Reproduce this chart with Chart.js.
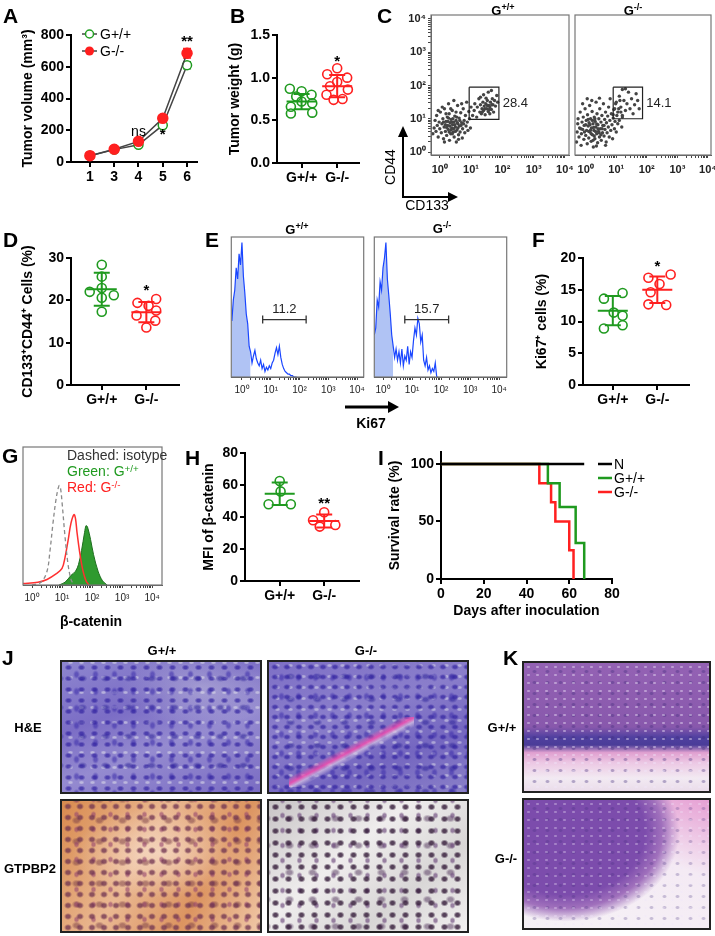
<!DOCTYPE html>
<html>
<head>
<meta charset="utf-8">
<script src="https://cdn.jsdelivr.net/npm/chart.js@4.4.1/dist/chart.umd.min.js"></script>
<style>
body{margin:0;background:#fff}
#fig{position:relative;width:715px;height:936px;overflow:hidden;font-family:"Liberation Sans",Arial,sans-serif;color:#000}
#fig canvas{position:absolute}
.t{position:absolute;white-space:nowrap;line-height:1}
.c{transform:translate(-50%,-50%)}
.lc{transform:translateY(-50%)}
.lt{font-size:21px;font-weight:bold}
.hd{font-size:13px;font-weight:bold}
.n14{font-size:14px}
.b14{font-size:14px;font-weight:bold}
sup{font-size:70%;vertical-align:0.45em;line-height:0}
.img{position:absolute;border:2px solid #222;box-sizing:border-box}
.he1{background:
 radial-gradient(ellipse 4px 3px,rgba(50,35,160,.7) 40%,transparent 100%) 0 0/13px 11px,
 radial-gradient(ellipse 3.5px 4.5px,rgba(60,45,170,.55) 40%,transparent 100%) 5px 4px/19px 17px,
 radial-gradient(ellipse 5px 3.5px,rgba(40,30,150,.5) 40%,transparent 100%) 9px 2px/23px 29px,
 radial-gradient(ellipse 3px 2px,rgba(225,225,235,.55) 40%,transparent 100%) 3px 8px/11px 15px,
 radial-gradient(ellipse 40% 30% at 70% 20%,rgba(210,210,225,.45),transparent),
 linear-gradient(160deg,#8e86cf,#7b6dc5 35%,#958bd0 60%,#7a6cc3)}
.he2{background:
 linear-gradient(152deg,transparent 44%,rgba(235,80,175,.9) 49%,rgba(220,200,230,.7) 52%,transparent 56%) 20px 55px/125px 70px no-repeat,
 radial-gradient(ellipse 4px 3px,rgba(50,35,160,.7) 40%,transparent 100%) 0 0/12px 10px,
 radial-gradient(ellipse 3.5px 4.5px,rgba(60,45,170,.55) 40%,transparent 100%) 4px 6px/17px 19px,
 radial-gradient(ellipse 5px 3.5px,rgba(40,30,150,.5) 40%,transparent 100%) 8px 3px/27px 23px,
 radial-gradient(ellipse 3px 2px,rgba(225,225,235,.5) 40%,transparent 100%) 2px 9px/13px 11px,
 linear-gradient(160deg,#7e70c6,#8a7ecb 40%,#7466c0 70%,#8a80c8)}
.gl{background:
 radial-gradient(ellipse 4px 3.5px,rgba(110,50,80,.75) 45%,transparent 100%) 0 0/12px 11px,
 radial-gradient(ellipse 3px 3.5px,rgba(150,70,110,.6) 45%,transparent 100%) 6px 6px/17px 15px,
 radial-gradient(ellipse 5px 4px,rgba(120,60,70,.5) 45%,transparent 100%) 3px 9px/23px 21px,
 radial-gradient(ellipse 45% 35% at 50% 40%,rgba(255,240,230,.55),transparent),
 linear-gradient(120deg,#d88a4e,#eab892 40%,#dc9460 70%,#f0c8a8)}
.gr{background:
 radial-gradient(ellipse 4px 3.5px,rgba(50,25,55,.8) 45%,transparent 100%) 0 0/13px 12px,
 radial-gradient(ellipse 3px 3.5px,rgba(110,75,125,.65) 45%,transparent 100%) 5px 7px/17px 15px,
 radial-gradient(ellipse 5px 4px,rgba(80,50,90,.5) 45%,transparent 100%) 9px 4px/23px 27px,
 linear-gradient(140deg,#c8c4c6,#efeded 40%,#d8d6d6 70%,#f2f0f0)}
.k1{background:
 radial-gradient(ellipse 2px 1.5px,rgba(240,230,250,.45) 50%,transparent 100%) 0 0/9px 8px,
 radial-gradient(ellipse 2.5px 2px,rgba(60,40,120,.35) 50%,transparent 100%) 4px 3px/13px 11px,
 linear-gradient(180deg,#9462b4 0%,#8858ac 50%,#5040a0 58%,#4a3c98 64%,#e0a0d0 70%,#ecc8e4 78%,#f2eaf2 90%,#eadcea 100%)}
.k2{background:
 radial-gradient(ellipse 2px 1.5px,rgba(240,230,250,.35) 50%,transparent 100%) 0 0/9px 8px,
 radial-gradient(ellipse 2.5px 2px,rgba(60,40,120,.25) 50%,transparent 100%) 4px 3px/13px 11px,
 radial-gradient(ellipse 62% 70% at 22% 25%,#7c4cac 0 70%,#a070bc 85%,transparent 100%),
 linear-gradient(200deg,#e6a0d4 0%,#f4eaf4 40%,#f6f2f6 100%)}
</style>
</head>
<body>
<div id="fig">
  <canvas id="cA" width="193" height="167" style="left:16px;top:23px"></canvas>
  <canvas id="cB" width="142" height="168" style="left:223px;top:23px"></canvas>
  <canvas id="cC1" width="173" height="172" style="left:400px;top:8px"></canvas>
  <canvas id="cC2" width="144" height="172" style="left:571px;top:8px"></canvas>
  <canvas id="cD" width="169" height="169" style="left:16px;top:244px"></canvas>
  <canvas id="cE1" width="143" height="169" style="left:226px;top:230px"></canvas>
  <canvas id="cE2" width="143" height="169" style="left:369px;top:230px"></canvas>
  <canvas id="cF" width="165" height="169" style="left:530px;top:244px"></canvas>
  <canvas id="cG" width="147" height="167" style="left:18px;top:440px"></canvas>
  <canvas id="cH" width="168" height="168" style="left:197px;top:441px"></canvas>
  <canvas id="cI" width="239" height="180" style="left:383px;top:444px"></canvas>

  <div class="img he1" style="left:60px;top:660px;width:202px;height:134px"></div>
  <div class="img he2" style="left:267px;top:660px;width:202px;height:134px"></div>
  <div class="img gl" style="left:60px;top:799px;width:202px;height:134px"></div>
  <div class="img gr" style="left:267px;top:799px;width:202px;height:134px"></div>
  <div class="img k1" style="left:522px;top:661px;width:189px;height:132px"></div>
  <div class="img k2" style="left:522px;top:798px;width:189px;height:132px"></div>

  <svg width="715" height="936" style="position:absolute;left:0;top:0;pointer-events:none">
    <line x1="82" y1="34" x2="97" y2="34" stroke="#444" stroke-width="1.5"/>
    <circle cx="89.5" cy="34" r="4" fill="#fff" stroke="#22a022" stroke-width="1.5"/>
    <line x1="82" y1="51" x2="97" y2="51" stroke="#444" stroke-width="1.5"/>
    <circle cx="89.5" cy="51" r="4.5" fill="#ff1e1e"/>
    <line x1="403" y1="198" x2="403" y2="134" stroke="#000" stroke-width="2"/>
    <polygon points="398,137 408,137 403,126" fill="#000"/>
    <line x1="402" y1="197" x2="450" y2="197" stroke="#000" stroke-width="2"/>
    <polygon points="448,192 448,202 458,197" fill="#000"/>
    <line x1="345" y1="407" x2="390" y2="407" stroke="#000" stroke-width="3"/>
    <polygon points="388,401 388,413 399,407" fill="#000"/>
    <line x1="598" y1="464" x2="612" y2="464" stroke="#000" stroke-width="2.5"/>
    <line x1="598" y1="478" x2="612" y2="478" stroke="#1f9a1f" stroke-width="2.5"/>
    <line x1="598" y1="492" x2="612" y2="492" stroke="#ff2020" stroke-width="2.5"/>
  </svg>

  <div class="t lt" style="left:3px;top:5px">A</div>
  <div class="t lt" style="left:230px;top:5px">B</div>
  <div class="t lt" style="left:377px;top:5px">C</div>
  <div class="t lt" style="left:3px;top:229px">D</div>
  <div class="t lt" style="left:205px;top:229px">E</div>
  <div class="t lt" style="left:532px;top:229px">F</div>
  <div class="t lt" style="left:2px;top:445px">G</div>
  <div class="t lt" style="left:185px;top:447px">H</div>
  <div class="t lt" style="left:378px;top:447px">I</div>
  <div class="t lt" style="left:2px;top:647px">J</div>
  <div class="t lt" style="left:503px;top:647px">K</div>

  <div class="t n14 lc" style="left:100px;top:34px">G+/+</div>
  <div class="t n14 lc" style="left:100px;top:51px">G-/-</div>

  <div class="t hd c" style="left:503px;top:10px">G<sup>+/+</sup></div>
  <div class="t hd c" style="left:633px;top:10px">G<sup>-/-</sup></div>
  <div class="t n14 c" style="left:390px;top:167px;transform:translate(-50%,-50%) rotate(-90deg)">CD44</div>
  <div class="t n14 c" style="left:427px;top:205px">CD133</div>

  <div class="t hd c" style="left:297px;top:229px">G<sup>+/+</sup></div>
  <div class="t hd c" style="left:442px;top:228px">G<sup>-/-</sup></div>
  <div class="t b14 c" style="left:371px;top:423px">Ki67</div>

  <div class="t n14 lc" style="left:67px;top:455px;color:#333">Dashed: isotype</div>
  <div class="t n14 lc" style="left:67px;top:471px;color:#1f9a1f">Green: G<sup>+/+</sup></div>
  <div class="t n14 lc" style="left:67px;top:487px;color:#ff2020">Red: G<sup>-/-</sup></div>
  <div class="t b14 c" style="left:91px;top:621px">β-catenin</div>

  <div class="t n14 lc" style="left:614px;top:464px">N</div>
  <div class="t n14 lc" style="left:614px;top:478px">G+/+</div>
  <div class="t n14 lc" style="left:614px;top:492px">G-/-</div>

  <div class="t hd c" style="left:162px;top:650px">G+/+</div>
  <div class="t hd c" style="left:366px;top:650px">G-/-</div>
  <div class="t hd c" style="left:28px;top:727px">H&amp;E</div>
  <div class="t hd c" style="left:30px;top:868px">GTPBP2</div>
  <div class="t hd c" style="left:502px;top:727px">G+/+</div>
  <div class="t hd c" style="left:506px;top:858px">G-/-</div>
</div>

<script>
const FONT = '"Liberation Sans", Arial, sans-serif';
const GREEN = '#1f9a1f';
const RED = '#ff2020';

// ---- data ----
const groups = ['G+/+', 'G-/-'];

// A: tumor volume
const volDays = ['1', '3', '4', '5', '6'];
const volWT = [40, 78, 108, 232, 610];
const volKO = [40, 80, 130, 275, 685];
const volWTerr = [5, 6, 8, 15, 22];
const volKOerr = [5, 6, 10, 18, 30];

// B: tumor weight
const weightWT = [0.87, 0.84, 0.80, 0.78, 0.72, 0.70, 0.66, 0.59, 0.58];
const weightKO = [1.11, 1.04, 1.00, 0.95, 0.90, 0.86, 0.80, 0.75, 0.74];
const weightWTjit = [-0.33, 0.0, 0.28, -0.15, 0.0, 0.3, -0.3, 0.3, -0.3];
const weightKOjit = [0.0, -0.28, 0.28, 0.0, -0.2, 0.3, -0.3, 0.15, -0.1];
const weightMean = [0.72, 0.90];
const weightSD = [0.09, 0.13];

// C: CD133 / CD44 (log10 values)
const cdWT = [
  [-0.22,0.55],[-0.18,0.72],[-0.15,0.95],[-0.12,0.62],[-0.1,1.1],[-0.08,0.8],[-0.05,0.45],[-0.02,0.9],[0.0,0.7],[0.02,1.2],
  [0.05,0.58],[0.07,0.85],[0.1,1.0],[0.12,0.4],[0.14,0.75],[0.15,1.3],[0.18,0.62],[0.2,0.92],[0.22,0.5],[0.24,1.05],
  [0.25,0.8],[0.27,0.68],[0.3,1.15],[0.31,0.35],[0.33,0.88],[0.35,0.55],[0.36,0.98],[0.38,0.72],[0.4,1.25],[0.41,0.82],
  [0.43,0.6],[0.45,0.9],[0.46,0.45],[0.48,1.08],[0.5,0.75],[0.52,0.95],[0.53,0.3],[0.55,0.66],[0.57,1.4],[0.58,0.85],
  [0.6,0.52],[0.62,1.02],[0.63,0.78],[0.65,0.6],[0.67,1.18],[0.7,0.88],[0.72,0.42],[0.73,0.7],[0.75,1.3],[0.78,0.95],
  [0.8,0.58],[0.82,1.1],[0.84,0.78],[0.86,1.5],[0.88,0.9],[0.9,0.65],[0.93,1.22],[0.95,1.0],[0.98,0.72],[1.0,1.35],
  [0.28,1.45],[0.08,1.35],[0.45,1.55],[0.6,0.38],[0.15,0.3],[0.35,1.3],[0.7,1.45],[-0.05,1.25],[0.52,1.2],[0.2,1.15],
  [0.32,0.78],[0.44,0.7],[0.38,0.9],[0.5,0.62],[0.26,0.92],[0.56,0.88],[0.42,1.0],[0.3,0.6],[0.64,0.95],[0.18,0.82],
  [0.48,0.82],[0.36,0.66],[0.58,0.72],[0.22,0.74],[0.68,0.8],[0.12,0.9],[0.54,1.05],[0.4,0.55],[0.76,0.85],[0.28,1.02],
  [1.05,1.1],[1.1,1.25],[1.12,1.45],[1.18,1.05],[1.2,1.35],[1.25,1.6],[1.28,1.2],[1.3,1.42],[1.33,1.15],[1.35,1.3],
  [1.38,1.5],[1.4,1.25],[1.42,1.38],[1.45,1.12],[1.47,1.45],[1.5,1.3],[1.52,1.55],[1.55,1.22],[1.57,1.4],[1.6,1.35],
  [1.62,1.5],[1.65,1.28],[1.68,1.6],[1.7,1.42],[1.72,1.2],[1.75,1.55],[1.78,1.38],[1.82,1.7],[1.55,1.8],[1.4,1.72],
  [1.85,1.5],[1.65,1.85],[1.3,1.65],[1.48,1.62],[1.6,1.15],[1.52,1.4],[1.44,1.3],[1.58,1.28],[1.66,1.42],[1.36,1.2]
];
const cdKO = [
  [-0.3,0.3],[-0.28,0.6],[-0.26,0.85],[-0.25,1.0],[-0.22,0.45],[-0.2,0.72],[-0.18,1.2],[-0.15,0.2],[-0.14,0.55],[-0.12,0.9],
  [-0.1,0.68],[-0.08,1.05],[-0.06,0.38],[-0.05,0.8],[-0.02,1.3],[0.0,0.5],[0.02,0.95],[0.03,0.65],[0.05,0.25],[0.06,1.12],
  [0.08,0.78],[0.1,0.42],[0.11,0.88],[0.13,1.4],[0.14,0.6],[0.16,1.0],[0.18,0.32],[0.19,0.72],[0.21,1.22],[0.22,0.52],
  [0.24,0.85],[0.25,0.15],[0.27,0.65],[0.28,1.05],[0.3,0.4],[0.31,0.92],[0.33,0.75],[0.34,1.5],[0.36,0.55],[0.37,1.15],
  [0.39,0.28],[0.4,0.82],[0.42,0.62],[0.43,1.0],[0.45,0.45],[0.46,1.3],[0.48,0.7],[0.5,0.9],[0.51,0.35],[0.53,1.1],
  [0.55,0.58],[0.56,0.8],[0.58,1.45],[0.6,0.48],[0.62,0.98],[0.63,0.68],[0.65,1.2],[0.67,0.3],[0.68,0.88],[0.7,0.58],
  [0.72,1.08],[0.74,0.75],[0.75,1.35],[0.77,0.45],[0.79,0.95],[0.8,1.6],[0.82,0.65],[0.84,1.15],[0.86,0.82],[0.88,0.4],
  [0.9,1.02],[0.92,1.28],[0.94,0.7],[0.96,0.92],[0.98,1.45],[1.0,0.6],[1.02,1.1],[1.05,0.85],[1.08,1.3],[1.1,0.95],
  [1.12,1.55],[1.15,1.2],[1.18,0.75],[1.2,1.05],[0.2,1.55],[-0.1,1.45],[0.45,1.62],[0.65,0.2],[0.35,0.18],[0.05,1.6],
  [0.1,0.62],[0.26,0.74],[0.18,0.55],[0.32,0.62],[0.0,0.82],[0.4,0.7],[0.14,0.82],[0.22,0.95],[0.5,0.52],[-0.04,0.6],
  [0.28,0.48],[0.08,0.98],[0.36,0.84],[0.44,0.58],[0.16,0.66],[0.3,1.0],[-0.16,0.7],[0.6,0.8],[0.24,0.35],[0.54,0.7],
  [0.9,1.12],[0.95,1.3],[1.0,1.5],[1.05,1.2],[1.1,1.68],[1.15,1.35],[1.2,1.1],[1.25,1.55],[1.3,1.25],[1.35,1.45],
  [1.4,1.8],[1.45,1.3],[1.5,1.6],[1.55,1.15],[1.6,1.42],[1.7,1.55],[1.75,1.3],[1.3,1.9],[1.2,1.88],[1.65,1.75]
];
const gateWT = {x1: 0.94, x2: 1.89, y1: 0.98, y2: 1.95, label: '28.4'};
const gateKO = {x1: 0.90, x2: 1.86, y1: 1.0, y2: 1.95, label: '14.1'};

// D: CD133+CD44+ cells
const stemWT = [28.4, 25.6, 22.9, 22.0, 21.2, 20.6, 17.3];
const stemKO = [20.3, 19.4, 18.7, 17.6, 16.4, 15.2, 13.6];
const stemWTjit = [0, 0, 0, -0.27, 0.27, 0, 0];
const stemKOjit = [0.22, -0.2, 0.05, 0.22, -0.22, 0.2, 0];
const stemMean = [22.6, 17.2];
const stemSD = [3.9, 2.4];

// E: Ki67 histograms (bins of 0.05 log10 units)
const kiWTstart = -0.35;
const kiWT = [40, 55, 62, 78, 70, 88, 80, 96, 72, 60, 45, 38, 22, 18, 10, 15, 19, 13, 10, 8,
  12, 6, 9, 4, 7, 5, 8, 6, 10, 12, 17, 21, 16, 22, 14, 9, 6, 4, 3, 2, 2, 1, 1, 0, 0, 0];
const kiKOstart = -0.30;
const kiKO = [30, 35, 55, 50, 68, 62, 78, 85, 96, 70, 58, 45, 30, 22, 14, 20, 12, 18, 10, 20,
  8, 15, 12, 22, 9, 18, 14, 26, 35, 30, 42, 38, 25, 30, 12, 8, 14, 5, 8, 3, 6, 4, 10, 0, 0];
const kiBinStep = 0.05;
const kiGateWT = {x1: 0.72, x2: 2.23, y: 41, label: '11.2'};
const kiGateKO = {x1: 0.75, x2: 2.26, y: 41, label: '15.7'};

// F: Ki67+ cells
const kiPctWT = [14.5, 13.6, 11.4, 10.9, 9.4, 8.9];
const kiPctKO = [17.4, 16.9, 15.9, 14.6, 12.7, 12.6];
const kiPctWTjit = [0.22, -0.2, 0.02, 0.22, 0.22, -0.2];
const kiPctKOjit = [0.3, -0.2, 0.05, -0.15, -0.2, 0.2];
const kiPctMean = [11.7, 15.0];
const kiPctSD = [2.3, 2.1];

// G: beta-catenin histograms (log10 x, % of max)
const isoX = [0.0, 0.3, 0.5, 0.6, 0.7, 0.8, 0.9, 0.95, 1.0, 1.1, 1.2, 1.3, 1.4];
const isoY = [0, 2, 10, 25, 45, 62, 72, 70, 60, 35, 15, 4, 0];
const redX = [-0.3, 0.2, 0.5, 0.8, 1.0, 1.1, 1.2, 1.3, 1.4, 1.45, 1.5, 1.6, 1.7, 1.8, 1.9];
const redY = [1, 2, 4, 8, 12, 20, 32, 45, 51, 48, 38, 22, 10, 3, 0];
const grnX = [0.9, 1.1, 1.3, 1.45, 1.55, 1.65, 1.75, 1.8, 1.85, 1.95, 2.05, 2.2, 2.35, 2.5];
const grnY = [0, 2, 7, 10, 15, 25, 38, 43, 42, 33, 22, 10, 3, 0];

// H: MFI of beta-catenin
const mfiWT = [62.5, 56, 48, 48];
const mfiKO = [43, 38, 35, 34];
const mfiWTjit = [0, 0.02, -0.25, 0.25];
const mfiKOjit = [0, -0.25, 0.25, -0.1];
const mfiMean = [54.5, 37.5];
const mfiSD = [7, 4];

// I: survival
const survN = [[0, 100], [67, 100]];
const survWTdays = [0, 50, 55.5, 63, 67];
const survWT = [100, 83.3, 62.5, 31.2, 0];
const survKOdays = [0, 46, 51.5, 53.5, 60, 62];
const survKO = [100, 83.3, 66.7, 50, 25, 0];

// ---- plugins ----
const meanSd = {
  id: 'meanSd',
  afterDatasetsDraw(chart, args, opts) {
    if (!opts.groups) return;
    const {ctx} = chart, x = chart.scales.x, y = chart.scales.y;
    ctx.save();
    ctx.lineWidth = 2;
    opts.groups.forEach(g => {
      const cx = x.getPixelForValue(g.x);
      const ym = y.getPixelForValue(g.mean);
      const yt = y.getPixelForValue(g.mean + g.sd), yb = y.getPixelForValue(g.mean - g.sd);
      ctx.strokeStyle = g.color;
      ctx.beginPath();
      ctx.moveTo(cx - 15, ym); ctx.lineTo(cx + 15, ym);
      ctx.moveTo(cx, yt); ctx.lineTo(cx, yb);
      ctx.moveTo(cx - 8, yt); ctx.lineTo(cx + 8, yt);
      ctx.moveTo(cx - 8, yb); ctx.lineTo(cx + 8, yb);
      ctx.stroke();
    });
    ctx.restore();
  }
};

const errorBars = {
  id: 'errorBars',
  beforeDatasetsDraw(chart) {
    const {ctx} = chart;
    chart.data.datasets.forEach((ds, di) => {
      if (!ds.errors) return;
      const meta = chart.getDatasetMeta(di);
      const ys = chart.scales[meta.yAxisID];
      ctx.save();
      ctx.strokeStyle = ds.errColor;
      ctx.lineWidth = 1.5;
      meta.data.forEach((pt, i) => {
        const v = ds.data[i].y, e = ds.errors[i];
        const y1 = ys.getPixelForValue(v - e), y2 = ys.getPixelForValue(v + e);
        ctx.beginPath();
        ctx.moveTo(pt.x, y1); ctx.lineTo(pt.x, y2);
        ctx.moveTo(pt.x - 4, y2); ctx.lineTo(pt.x + 4, y2);
        ctx.moveTo(pt.x - 4, y1); ctx.lineTo(pt.x + 4, y1);
        ctx.stroke();
      });
      ctx.restore();
    });
  }
};

const textMarks = {
  id: 'textMarks',
  afterDatasetsDraw(chart, args, opts) {
    if (!opts.items) return;
    const {ctx} = chart, x = chart.scales.x, y = chart.scales.y;
    ctx.save();
    ctx.textBaseline = 'middle';
    opts.items.forEach(it => {
      ctx.font = it.font || ('bold 14px ' + FONT);
      ctx.fillStyle = it.color || '#000';
      ctx.textAlign = it.align || 'center';
      ctx.fillText(it.text, x.getPixelForValue(it.x), y.getPixelForValue(it.y));
    });
    ctx.restore();
  }
};

const frame = {
  id: 'frame',
  afterDraw(chart, args, opts) {
    if (!opts.color) return;
    const {ctx, chartArea: a} = chart;
    ctx.save();
    ctx.strokeStyle = opts.color;
    ctx.lineWidth = 1.2;
    ctx.strokeRect(a.left, a.top, a.right - a.left, a.bottom - a.top);
    ctx.restore();
  }
};

Chart.register(meanSd, errorBars, textMarks, frame);
Chart.defaults.font.family = FONT;
Chart.defaults.color = '#000';
Chart.defaults.animation = false;
Chart.defaults.responsive = false;
Chart.defaults.plugins.legend.display = false;
Chart.defaults.plugins.tooltip.enabled = false;

// ---- axis helpers ----
const prismGrid = {drawOnChartArea: false, drawTicks: true, tickLength: 5, color: '#000', lineWidth: 2};
const prismBorder = {display: true, color: '#000', width: 2};
const boldTicks = {size: 14, weight: 'bold'};

function yPrism(min, max, at, width, title, fmt) {
  return {
    type: 'linear', min, max,
    afterBuildTicks: s => { s.ticks = at.map(v => ({value: v})); },
    afterFit: s => { s.width = width; s.paddingTop = 0; s.paddingBottom = 0; },
    border: prismBorder, grid: prismGrid,
    ticks: {color: '#000', font: boldTicks, padding: 2, autoSkip: false, callback: fmt || (v => v)},
    title: {display: true, text: title, color: '#000', font: {size: 14, weight: 'bold'}, padding: {top: 4, bottom: 0}}
  };
}

function xPrism(min, max, labels, height) {
  return {
    type: 'linear', min, max,
    afterBuildTicks: s => { s.ticks = labels.map((l, i) => ({value: i})); },
    afterFit: s => { s.height = height; s.paddingLeft = 0; s.paddingRight = 0; },
    border: prismBorder, grid: prismGrid,
    ticks: {color: '#000', font: boldTicks, padding: 2, autoSkip: false, maxRotation: 0, callback: v => labels[v]}
  };
}

const SUP = ['\u2070', '\u00b9', '\u00b2', '\u00b3', '\u2074'];
const decadeTicks = [];
for (let d = 0; d < 4; d++) for (let k = 1; k < 10; k++) decadeTicks.push(d + Math.log10(k));
decadeTicks.push(4);

function logAxis(min, max, o) {
  return {
    type: 'linear', min, max, display: o.display !== false,
    afterBuildTicks: s => { s.ticks = decadeTicks.map(v => ({value: v})); },
    afterFit: s => {
      if (o.w != null) s.width = o.w;
      if (o.h != null) s.height = o.h;
      s.paddingLeft = 0; s.paddingRight = 0; s.paddingTop = 0; s.paddingBottom = 0;
    },
    border: {display: true, color: '#555', width: 1},
    grid: {drawOnChartArea: false, drawTicks: true, tickLength: 3, color: '#444', lineWidth: 1},
    ticks: {autoSkip: false, maxRotation: 0, padding: o.pad || 2, color: '#222',
      font: {size: o.fs || 10, weight: o.bold ? 'bold' : 'normal'},
      callback: v => Number.isInteger(v) ? '10' + SUP[v] : ''}
  };
}

function dots(values, jit, gi, color) {
  return {
    data: values.map((v, i) => ({x: gi + jit[i], y: v})),
    showLine: false, pointRadius: 4.5, pointBorderWidth: 1.6,
    pointBorderColor: color, pointBackgroundColor: 'rgba(255,255,255,0)'
  };
}

function dotPlot(id, wt, wtJit, ko, koJit, mean, sd, xr, yAx, pad, marks) {
  return new Chart(document.getElementById(id), {
    type: 'scatter',
    data: {datasets: [dots(wt, wtJit, 0, GREEN), dots(ko, koJit, 1, RED)]},
    options: {
      layout: {padding: pad},
      scales: {x: xPrism(xr[0], xr[1], groups, 28), y: yAx},
      plugins: {
        meanSd: {groups: [
          {x: 0, mean: mean[0], sd: sd[0], color: GREEN},
          {x: 1, mean: mean[1], sd: sd[1], color: RED}
        ]},
        textMarks: {items: marks}
      }
    }
  });
}

// ---- A ----
new Chart(document.getElementById('cA'), {
  type: 'scatter',
  data: {datasets: [
    {data: volKO.map((v, i) => ({x: i, y: v})), errors: volKOerr, errColor: RED,
      showLine: true, borderColor: '#444', borderWidth: 1.5,
      pointRadius: 5, pointBackgroundColor: RED, pointBorderColor: RED},
    {data: volWT.map((v, i) => ({x: i, y: v})), errors: volWTerr, errColor: GREEN,
      showLine: true, borderColor: '#444', borderWidth: 1.5,
      pointRadius: 4.5, pointBorderWidth: 1.5, pointBackgroundColor: '#fff', pointBorderColor: GREEN}
  ]},
  options: {
    layout: {padding: {top: 12, right: 12, left: 0, bottom: 0}},
    scales: {
      x: xPrism(-0.78, 4.41, volDays, 28),
      y: yPrism(0, 800, [0, 200, 400, 600, 800], 55, 'Tumor volume (mm\u00b3)')
    },
    plugins: {textMarks: {items: [
      {x: 2, y: 190, text: 'ns', font: '14px ' + FONT},
      {x: 3, y: 172, text: '*', font: 'bold 15px ' + FONT},
      {x: 4, y: 756, text: '**', font: 'bold 15px ' + FONT}
    ]}}
  }
});

// ---- B ----
dotPlot('cB', weightWT, weightWTjit, weightKO, weightKOjit, weightMean, weightSD,
  [-0.69, 1.61],
  yPrism(0, 1.5, [0, 0.5, 1, 1.5], 54, 'Tumor weight (g)', v => v.toFixed(1)),
  {top: 12, right: 5, left: 0, bottom: 0},
  [{x: 1, y: 1.19, text: '*', font: 'bold 15px ' + FONT}]);

// ---- C ----
function flowChart(id, pts, gate, xr, yAx, pad) {
  const gx = [gate.x1, gate.x2, gate.x2, gate.x1, gate.x1];
  const gy = [gate.y2, gate.y2, gate.y1, gate.y1, gate.y2];
  return new Chart(document.getElementById(id), {
    type: 'scatter',
    data: {datasets: [
      {data: gx.map((v, i) => ({x: v, y: gy[i]})), showLine: true, borderColor: '#222',
        borderWidth: 1.2, pointRadius: 0},
      {data: pts.map(p => ({x: p[0], y: p[1]})), pointRadius: 1.7, pointBorderWidth: 0,
        pointBackgroundColor: '#444'}
    ]},
    options: {
      layout: {padding: pad},
      scales: {x: logAxis(xr[0], xr[1], {h: 25, bold: true, fs: 11, pad: 5}), y: yAx},
      plugins: {
        frame: {color: '#777'},
        textMarks: {items: [{x: gate.x2 + 0.12, y: (gate.y1 + gate.y2) / 2, text: gate.label,
          font: '13px ' + FONT, color: '#222', align: 'left'}]}
      }
    }
  });
}
flowChart('cC1', cdWT, gateWT, [-0.28, 4.13],
  logAxis(-0.09, 4.12, {w: 31, bold: true, fs: 11}), {top: 7, right: 2, left: 0, bottom: 0});
flowChart('cC2', cdKO, gateKO, [-0.35, 4.1],
  logAxis(-0.09, 4.12, {display: false}), {top: 7, right: 2, left: 2, bottom: 0});

// ---- D ----
dotPlot('cD', stemWT, stemWTjit, stemKO, stemKOjit, stemMean, stemSD,
  [-0.69, 1.73],
  yPrism(0, 30, [0, 10, 20, 30], 55, 'CD133\u207aCD44\u207a Cells (%)'),
  {top: 14, right: 5, left: 0, bottom: 0},
  [{x: 1, y: 22.2, text: '*', font: 'bold 15px ' + FONT}]);

// ---- E ----
function kiChart(id, start, vals, fillTo, gate, xr, pad) {
  const pts = vals.map((v, i) => ({x: start + i * kiBinStep, y: v}));
  return new Chart(document.getElementById(id), {
    type: 'scatter',
    data: {datasets: [
      {data: [{x: gate.x1, y: gate.y}, {x: gate.x2, y: gate.y}], showLine: true,
        borderColor: '#333', borderWidth: 1.3, pointStyle: 'line', rotation: 90,
        pointRadius: 4, pointBorderColor: '#333', pointBorderWidth: 1.3},
      {data: pts, showLine: true, borderColor: '#1a46ff', borderWidth: 1.2, pointRadius: 0},
      {data: pts.filter(p => p.x <= fillTo), showLine: true, borderWidth: 0, pointRadius: 0,
        fill: 'origin', backgroundColor: 'rgba(150,175,240,0.75)'}
    ]},
    options: {
      layout: {padding: pad},
      scales: {
        x: logAxis(xr[0], xr[1], {h: 22, fs: 10, pad: 4}),
        y: {type: 'linear', min: 0, max: 100, display: false}
      },
      plugins: {
        frame: {color: '#777'},
        textMarks: {items: [{x: (gate.x1 + gate.x2) / 2, y: gate.y + 7, text: gate.label,
          font: '13px ' + FONT, color: '#222'}]}
      }
    }
  });
}
kiChart('cE1', kiWTstart, kiWT, 0.35, kiGateWT, [-0.37, 4.23], {top: 7, right: 2, left: 3, bottom: 0});
kiChart('cE2', kiKOstart, kiKO, 0.40, kiGateKO, [-0.3, 4.26], {top: 7, right: 2, left: 2, bottom: 0});

// ---- F ----
dotPlot('cF', kiPctWT, kiPctWTjit, kiPctKO, kiPctKOjit, kiPctMean, kiPctSD,
  [-0.67, 1.71],
  yPrism(0, 20, [0, 5, 10, 15, 20], 53, 'Ki67\u207a cells (%)'),
  {top: 14, right: 5, left: 0, bottom: 0},
  [{x: 1, y: 18.6, text: '*', font: 'bold 15px ' + FONT}]);

// ---- G ----
new Chart(document.getElementById('cG'), {
  type: 'scatter',
  data: {datasets: [
    {data: isoX.map((v, i) => ({x: v, y: isoY[i]})), showLine: true, borderColor: '#8a8a8a',
      borderWidth: 1.3, borderDash: [4, 3], pointRadius: 0, tension: 0.35},
    {data: redX.map((v, i) => ({x: v, y: redY[i]})), showLine: true, borderColor: '#ff3030',
      borderWidth: 1.5, pointRadius: 0, tension: 0.35},
    {data: grnX.map((v, i) => ({x: v, y: grnY[i]})), showLine: true, borderColor: '#1d6e1d',
      borderWidth: 1, pointRadius: 0, tension: 0.35, fill: 'origin', backgroundColor: '#2f9a2f'}
  ]},
  options: {
    layout: {padding: {top: 7, right: 3, left: 5, bottom: 0}},
    scales: {
      x: logAxis(-0.3, 4.33, {h: 22, fs: 10, pad: 4}),
      y: {type: 'linear', min: 0, max: 100, display: false}
    },
    plugins: {frame: {color: '#777'}}
  }
});

// ---- H ----
dotPlot('cH', mfiWT, mfiWTjit, mfiKO, mfiKOjit, mfiMean, mfiSD,
  [-0.78, 1.78],
  yPrism(0, 80, [0, 20, 40, 60, 80], 48, 'MFI of \u03b2-catenin'),
  {top: 12, right: 5, left: 0, bottom: 0},
  [{x: 1, y: 48, text: '**', font: 'bold 15px ' + FONT}]);

// ---- I ----
new Chart(document.getElementById('cI'), {
  type: 'scatter',
  data: {datasets: [
    {data: survN.map(p => ({x: p[0], y: p[1]})), showLine: true, borderColor: '#000',
      borderWidth: 2.5, pointRadius: 0},
    {data: survWTdays.map((d, i) => ({x: d, y: survWT[i]})), showLine: true, stepped: true,
      borderColor: GREEN, borderWidth: 2.5, pointRadius: 0},
    {data: survKOdays.map((d, i) => ({x: d, y: survKO[i]})), showLine: true, stepped: true,
      borderColor: RED, borderWidth: 2.5, pointRadius: 0}
  ]},
  options: {
    layout: {padding: {top: 8, right: 10, left: 0, bottom: 0}},
    scales: {
      x: {
        type: 'linear', min: 0, max: 80,
        afterBuildTicks: s => { s.ticks = [0, 20, 40, 60, 80].map(v => ({value: v})); },
        afterFit: s => { s.height = 45; s.paddingLeft = 0; s.paddingRight = 0; },
        border: prismBorder, grid: prismGrid,
        ticks: {color: '#000', font: boldTicks, padding: 2, autoSkip: false, maxRotation: 0},
        title: {display: true, text: 'Days after inoculation', color: '#000',
          font: {size: 14, weight: 'bold'}, padding: {top: 0, bottom: 4}}
      },
      y: yPrism(0, 110.4, [0, 50, 100], 58, 'Survival rate (%)')
    }
  }
});
</script>
</body>
</html>
